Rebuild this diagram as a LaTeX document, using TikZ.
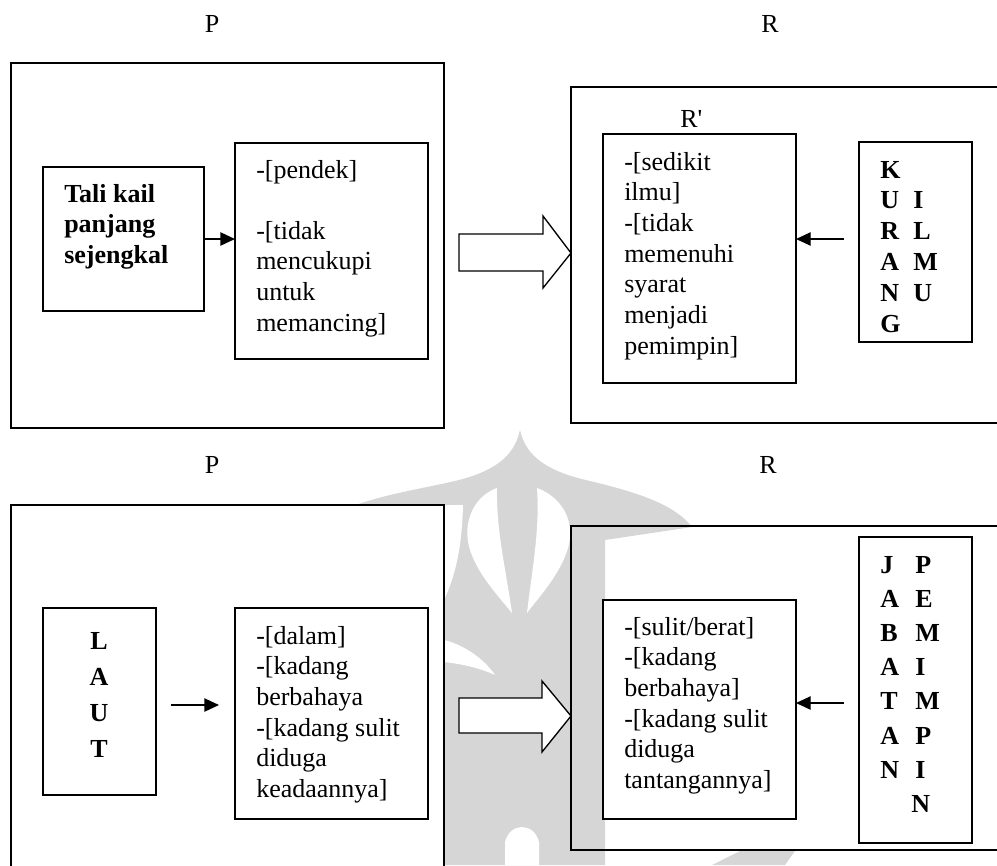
\documentclass[tikz,border=0pt]{standalone}
\usepackage{fontspec}
\setmainfont{Liberation Serif}
\usetikzlibrary{arrows.meta}
\newcommand\bodysize{\fontsize{19.5}{23}\selectfont}
% lines of text whose baseline is that of the first line
\newcommand\stack[1]{\begin{tabular}[t]{@{}l@{}}#1\end{tabular}}
% \mkbox[opts]{x1}{y1}{x2}{y2}{name}: framed rectangle node from its corners
\newcommand\mkbox[6][]{%
  \node[frame,#1,anchor=north west,
        minimum width={(#4-#2)*0.75pt},minimum height={(#5-#3)*0.75pt}]
        (#6) at (#2,#3) {};}

\begin{document}
\begin{tikzpicture}[x=0.75pt,y=-0.75pt,
  frame/.style={draw=black,line width=1.1pt,inner sep=0pt,outer sep=0pt},
  filled/.style={fill=white},
  txt/.style={inner sep=0pt,font=\bodysize,anchor=base west},
  btxt/.style={inner sep=0pt,font=\bodysize\bfseries,anchor=base west},
  ctxt/.style={inner sep=0pt,font=\bodysize\bfseries,anchor=base},
  lbl/.style={inner sep=0pt,font=\bodysize,anchor=base},
  link/.style={line width=1pt,-{Triangle[length=11pt,width=10pt]}},
  hollow/.style={draw=black,fill=white,line width=1pt,line join=miter},
  wm/.style={fill=black!16}
]
\useasboundingbox (0,0) rectangle (997,865);

% ---- faint emblem behind the lower row ----
\fill[wm] (520,430) .. controls (514,458) and (492,472) .. (455,481)
  .. controls (420,489) and (380,495) .. (348,508) -- (348,865) -- (605,865)
  -- (605,540) -- (692,527) .. controls (675,505) and (640,493) .. (590,481)
  .. controls (550,472) and (526,458) .. (520,430) -- cycle;
\fill[white] (497,488) .. controls (472,497) and (462,525) .. (470,550)
  .. controls (478,575) and (500,598) .. (512,613)
  .. controls (506,570) and (496,530) .. (497,488) -- cycle;
\fill[white] (537,488) .. controls (562,497) and (576,522) .. (568,548)
  .. controls (560,575) and (538,598) .. (527,613)
  .. controls (532,570) and (540,530) .. (537,488) -- cycle;
\fill[white] (444,505) -- (463,505) .. controls (462,540) and (458,570) .. (444,600) -- cycle;
\fill[white] (444,640) .. controls (465,645) and (485,660) .. (495,675)
  .. controls (480,668) and (462,664) .. (444,662) -- cycle;
\fill[white] (505,865) -- (505,842) .. controls (510,822) and (534,822) .. (539,842) -- (539,865) -- cycle;
\fill[wm] (712,865) -- (740,851) -- (795,851) -- (785,865) -- cycle;

% ---- upper row ----
\node[lbl] (p1) at (212,32) {P};
\node[lbl] (r1) at (770,32) {R};

\mkbox[filled]{11}{63}{444}{428}{outerP1}
\mkbox[filled]{43}{167}{204}{311}{tali}
\mkbox[filled]{235}{143}{428}{359}{pendek}
\node[btxt] (taliT) at (64,202) {\stack{Tali kail\\panjang\\sejengkal}};
\node[txt] (pendekT) at (256,178) {-[pendek]};
\node[txt] (pendekT2) at (256,239) {\stack{-[tidak\\mencukupi\\untuk\\memancing]}};
\draw[link] (tali.east) -- (tali.east -| pendek.west);

\mkbox[filled]{571}{87}{1010}{423}{outerR1}
\draw[hollow] (459,234) -- (543,234) -- (543,216) -- (571,253) -- (543,288)
  -- (543,271) -- (459,271) -- cycle;
\node[txt] (rprime) at (680,127) {R\textquotesingle};
\mkbox[filled]{603}{134}{796}{383}{sedikit}
\node[txt] (sedikitT) at (624,170)
  {\stack{-[sedikit\\ilmu]\\-[tidak\\memenuhi\\syarat\\menjadi\\pemimpin]}};
\mkbox[filled]{859}{142}{972}{342}{kurang}
\foreach \c [count=\i from 0] in {K,U,R,A,N,G}
  \node[btxt] (ka\i) at (880,{178+30.8*\i}) {\c};
\foreach \c [count=\i from 1] in {I,L,M,U}
  \node[btxt] (kb\i) at (913,{178+30.8*\i}) {\c};
\coordinate (kurangtail) at (844,239);
\draw[link] (kurangtail) -- (kurangtail -| sedikit.east);

% ---- lower row ----
\node[lbl] (p2) at (212,473) {P};
\node[lbl] (r2) at (768,473) {R};

\mkbox[filled]{11}{505}{444}{900}{outerP2}
\mkbox[filled]{43}{608}{156}{795}{laut}
\foreach \c [count=\i from 0] in {L,A,U,T}
  \node[ctxt] (la\i) at (99,{649+36.3*\i}) {\c};
\mkbox[filled]{235}{608}{428}{819}{dalam}
\node[txt] (dalamT) at (256,644)
  {\stack{-[dalam]\\-[kadang\\berbahaya\\-[kadang sulit\\diduga\\keadaannya]}};
\coordinate (lautA) at (171,705);
\coordinate (lautB) at (219,705);
\draw[link] (lautA) -- (lautB);

\mkbox{571}{526}{1010}{850}{outerR2}
\draw[hollow] (459,698) -- (542,698) -- (542,681) -- (571,716) -- (542,752)
  -- (542,733) -- (459,733) -- cycle;
\mkbox[filled]{603}{600}{796}{819}{sulit}
\node[txt] (sulitT) at (624,635)
  {\stack{-[sulit/berat]\\-[kadang\\berbahaya]\\-[kadang sulit\\diduga\\tantangannya]}};
\mkbox[filled]{859}{537}{972}{843}{jabatan}
\foreach \c [count=\i from 0] in {J,A,B,A,T,A,N}
  \node[btxt] (ja\i) at (880,{573+34.2*\i}) {\c};
\foreach \c [count=\i from 0] in {P,E,M,I,M,P,I}
  \node[btxt] (jb\i) at (915,{573+34.2*\i}) {\c};
\node[btxt] (jb7) at (911,812) {N};
\coordinate (jabtail) at (844,703);
\draw[link] (jabtail) -- (jabtail -| sulit.east);
\end{tikzpicture}
\end{document}
